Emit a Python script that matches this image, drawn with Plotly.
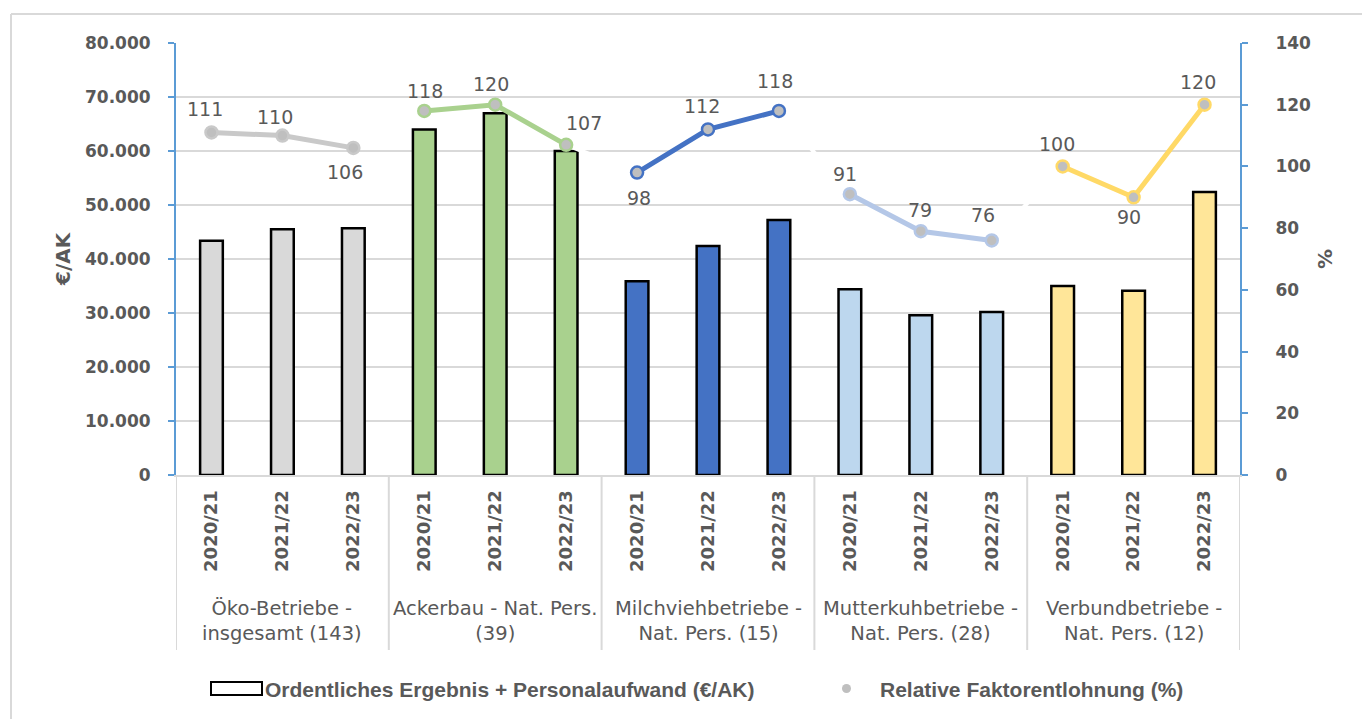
import plotly.graph_objects as go

# ---------------- data ----------------
groups = ["Öko-Betriebe -<br>insgesamt (143)", "Ackerbau - Nat. Pers.<br>(39)",
          "Milchviehbetriebe -<br>Nat. Pers. (15)", "Mutterkuhbetriebe -<br>Nat. Pers. (28)",
          "Verbundbetriebe -<br>Nat. Pers. (12)"]
years = ["2020/21", "2021/22", "2022/23"]
income_oeko = [43400, 45500, 45700]
income_acker = [64000, 67000, 60000]
income_milch = [35900, 42400, 47200]
income_mutter = [34400, 29600, 30200]
income_verbund = [35000, 34100, 52400]
faktor_oeko = [111, 110, 106]
faktor_acker = [118, 120, 107]
faktor_milch = [98, 112, 118]
faktor_mutter = [91, 79, 76]
faktor_verbund = [100, 90, 120]

# label offsets in pixels (style only): (xshift, yshift)
label_off_oeko = [(-6, 23), (-7, 19), (-8, -24)]
label_off_acker = [(1, 20), (-4, 21), (18, 22)]
label_off_milch = [(2, -25), (-6, 23), (-4, 30)]
label_off_mutter = [(-5, 20), (-1, 21), (-9, 25)]
label_off_verbund = [(-6, 22), (-5, -20), (-7, 23)]

incomes = [income_oeko, income_acker, income_milch, income_mutter, income_verbund]
faktors = [faktor_oeko, faktor_acker, faktor_milch, faktor_mutter, faktor_verbund]
label_off = [label_off_oeko, label_off_acker, label_off_milch, label_off_mutter, label_off_verbund]
bar_colors = ["#d9d9d9", "#a9d18e", "#4472c4", "#bdd7ee", "#ffe699"]
line_colors = ["#c9c9c9", "#a9d18e", "#4472c4", "#b4c7e7", "#ffd966"]

# ---------------- geometry helpers (plot area pixels) ----------------
W, H = 1362, 719
PL, PR, PT, PB = 176, 1240, 43, 475
def px(x):
    return (x - PL) / (PR - PL)
def py(y):
    return (PB - y) / (PB - PT)

GRAY = "#595959"
AXBLUE = "#5b9bd5"
GRID = "#d9d9d9"
FONT = "DejaVu Sans"

fig = go.Figure()

n = len(years)
# bars
for g, vals in enumerate(incomes):
    xs = [g * n + i for i in range(n)]
    fig.add_trace(go.Bar(x=xs, y=vals, width=0.32,
                         marker=dict(color=bar_colors[g], line=dict(color="black", width=2.5)),
                         showlegend=False, yaxis="y"))

# white connectors between groups (hidden segments)
cx, cy = [], []
for g in range(len(faktors) - 1):
    cx += [g * n + n - 1, (g + 1) * n, None]
    cy += [faktors[g][-1], faktors[g + 1][0], None]
fig.add_trace(go.Scatter(x=cx, y=cy, mode="lines", line=dict(color="white", width=4),
                         showlegend=False, yaxis="y2", hoverinfo="skip"))

# lines
ann = []
for g, vals in enumerate(faktors):
    xs = [g * n + i for i in range(n)]
    fig.add_trace(go.Scatter(x=xs, y=vals, mode="lines+markers", yaxis="y2",
                             line=dict(color=line_colors[g], width=5),
                             marker=dict(size=12, color="#bfbfbf",
                                         line=dict(color=line_colors[g], width=2.5)),
                             showlegend=False))
    for x, v, (dx, dy) in zip(xs, vals, label_off[g]):
        ann.append(dict(x=x, y=v, xref="x", yref="y2", text=str(v), showarrow=False,
                        xshift=dx, yshift=dy, xanchor="center", yanchor="middle",
                        font=dict(family=FONT, size=19, color=GRAY)))

ticktext = years * len(groups)
tickvals = list(range(len(ticktext)))

fig.update_layout(
    width=W, height=H,
    margin=dict(l=PL, r=W - PR, t=PT, b=H - PB),
    paper_bgcolor="white", plot_bgcolor="white",
    separators=",.",
    xaxis=dict(range=[-0.5, len(ticktext) - 0.5], tickvals=tickvals, ticktext=ticktext,
               tickangle=-90, showline=True, linecolor=GRID, linewidth=2,
               ticks="outside", ticklen=6, tickcolor="rgba(0,0,0,0)",
               showgrid=False, zeroline=False,
               tickfont=dict(family=FONT, size=18, color=GRAY, weight="bold")),
    yaxis=dict(range=[0, 80000], dtick=10000, tickformat=",d",
               showline=True, linecolor=AXBLUE, linewidth=2,
               ticks="outside", ticklen=6, tickwidth=2, tickcolor=AXBLUE,
               ticklabelstandoff=14,
               gridcolor=GRID, gridwidth=1.5, zeroline=False,
               tickfont=dict(family=FONT, size=17, color=GRAY, weight="bold")),
    yaxis2=dict(range=[0, 140], dtick=20, overlaying="y", side="right",
                showline=True, linecolor=AXBLUE, linewidth=2,
                ticks="outside", ticklen=6, tickwidth=2, tickcolor=AXBLUE,
                ticklabelstandoff=24,
                showgrid=False, zeroline=False,
                tickfont=dict(family=FONT, size=17, color=GRAY, weight="bold")),
)

shapes = []
# group dividers
for g in range(len(groups) + 1):
    shapes.append(dict(type="line", xref="x", yref="paper",
                       x0=g * n - 0.5, x1=g * n - 0.5, y0=0, y1=py(650),
                       line=dict(color=GRID, width=2)))
# outer chart frame (top and left)
shapes.append(dict(type="line", xref="paper", yref="paper", x0=px(11), x1=px(W), y0=py(14), y1=py(14),
                   line=dict(color=GRID, width=2)))
shapes.append(dict(type="line", xref="paper", yref="paper", x0=px(11), x1=px(11), y0=py(14), y1=py(H),
                   line=dict(color=GRID, width=2)))
# legend box (bar series)
shapes.append(dict(type="rect", xref="paper", yref="paper", x0=px(211), x1=px(262), y0=py(682), y1=py(695),
                   line=dict(color="black", width=2), fillcolor="white"))
# legend dot (line series)
shapes.append(dict(type="circle", xref="paper", yref="paper", x0=px(842), x1=px(851), y0=py(684), y1=py(693),
                   line=dict(color="#bfbfbf", width=0), fillcolor="#bfbfbf"))
fig.update_layout(shapes=shapes)

for g, name in enumerate(groups):
    ann.append(dict(x=g * n + 1, y=py(621), xref="x", yref="paper", text=name, showarrow=False,
                    font=dict(family=FONT, size=19.5, color=GRAY), align="center",
                    xanchor="center", yanchor="middle"))
ann.append(dict(x=px(63), y=py(259), xref="paper", yref="paper", text="<b>€/AK</b>", textangle=-90,
                xanchor="center", yanchor="middle",
                showarrow=False, font=dict(family=FONT, size=20, color=GRAY)))
ann.append(dict(x=px(1325), y=py(259), xref="paper", yref="paper", text="<b>%</b>", textangle=-90,
                xanchor="center", yanchor="middle",
                showarrow=False, font=dict(family=FONT, size=20, color=GRAY)))
# legend texts
ann.append(dict(x=px(263), y=py(689), xref="paper", yref="paper", xanchor="left", yanchor="middle",
                text="<b>Ordentliches Ergebnis + Personalaufwand (€/AK)</b>", showarrow=False,
                font=dict(family="Liberation Sans", size=21, color=GRAY)))
ann.append(dict(x=px(878), y=py(689), xref="paper", yref="paper", xanchor="left", yanchor="middle",
                text="<b>Relative Faktorentlohnung (%)</b>", showarrow=False,
                font=dict(family="Liberation Sans", size=21, color=GRAY)))
fig.update_layout(annotations=ann)

fig.write_html("out.html", config={"displayModeBar": False},
               post_script="document.body.style.margin='0';")
